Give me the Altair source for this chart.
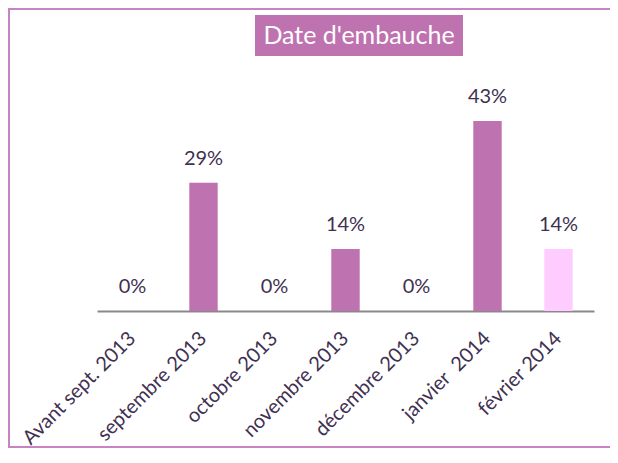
import altair as alt
import pandas as pd

categories = ["Avant sept. 2013", "septembre 2013", "octobre 2013", "novembre 2013",
              "décembre 2013", "janvier\u00a0 2014", "février 2014"]
values = [0.0, 0.29, 0.0, 0.14, 0.0, 0.43, 0.14]
labels = ["0%", "29%", "0%", "14%", "0%", "43%", "14%"]
bar_colors = ["#bf72b0", "#bf72b0", "#bf72b0", "#bf72b0", "#bf72b0", "#bf72b0", "#ffccff"]
title_text = "Date d'embauche"

df = pd.DataFrame({"cat": categories, "val": values, "lab": labels, "col": bar_colors})

FONT = "Lato"
TXT = "#3f3151"
BORDER = "#c883c0"

x = alt.X("cat:N", sort=categories,
          scale=alt.Scale(paddingInner=0.6, paddingOuter=0.3),
          axis=alt.Axis(title=None, labelAngle=-45, labelAlign="right", labelBaseline="middle",
                        labelFontSize=20, labelFont=FONT, labelColor=TXT, labelPadding=24,
                        ticks=False, domainColor="#898989", domainWidth=2, grid=False))
y = alt.Y("val:Q", scale=alt.Scale(domain=[0, 0.5]), axis=None)

base = alt.Chart(df)

bars = base.mark_bar().encode(x=x, y=y, color=alt.Color("col:N", scale=None))
text = base.mark_text(dy=-24, fontSize=20, font=FONT, color=TXT).encode(
    x=alt.X("cat:N", sort=categories), y="val:Q", text="lab:N")

one = pd.DataFrame({"a": [0]})
left_b = alt.Chart(one).mark_rect(color=BORDER, strokeWidth=0).encode(
    x=alt.value(-89), x2=alt.value(-87), y=alt.value(-82), y2=alt.value(358))
top_b = alt.Chart(one).mark_rect(color=BORDER, strokeWidth=0).encode(
    x=alt.value(-89), x2=alt.value(540), y=alt.value(-82), y2=alt.value(-80))
bot_b = alt.Chart(one).mark_rect(color=BORDER, strokeWidth=0).encode(
    x=alt.value(-89), x2=alt.value(540), y=alt.value(356), y2=alt.value(358))

tbox = alt.Chart(pd.DataFrame({"t": [title_text]})).mark_rect(color="#bf72b0").encode(
    x=alt.value(158), x2=alt.value(366), y=alt.value(-75), y2=alt.value(-34))
ttext = alt.Chart(pd.DataFrame({"t": [title_text]})).mark_text(
    color="white", fontSize=25, font=FONT, baseline="middle").encode(
    x=alt.value(262), y=alt.value(-54), text="t:N")

chart = alt.layer(left_b, top_b, bot_b, bars, text, tbox, ttext).properties(
    width=497, height=221,
    autosize=alt.AutoSizeParams(type="none"),
    padding={"left": 89, "top": 82, "right": 16, "bottom": 140},
).configure_view(stroke=None)

chart.save("out.html", embed_options={"renderer": "svg", "actions": False})
